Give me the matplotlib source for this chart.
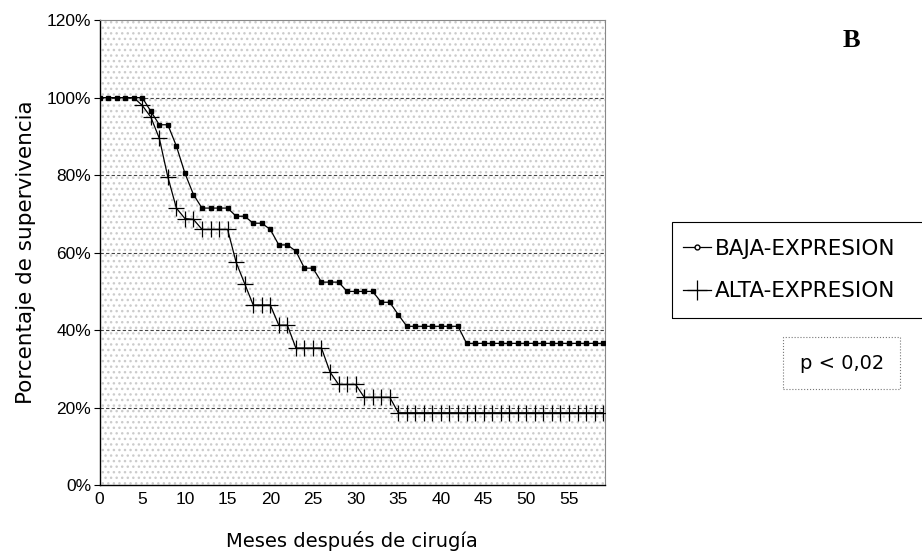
import matplotlib
matplotlib.use("Agg")
import matplotlib.pyplot as plt
from matplotlib.patches import Rectangle
from matplotlib.lines import Line2D

# Survival curves, one value per month (0..59).
months = list(range(60))
baja = [100, 100, 100, 100, 100, 100, 96.5, 93, 93, 87.5,
        80.5, 75, 71.5, 71.5, 71.5, 71.5, 69.4, 69.4, 67.6, 67.6,
        66, 62, 62, 60.4, 56, 56, 52.4, 52.4, 52.4, 50,
        50, 50, 50, 47.2, 47.2, 44, 41, 41, 41, 41,
        41, 41, 41, 36.6, 36.6, 36.6, 36.6, 36.6, 36.6, 36.6,
        36.6, 36.6, 36.6, 36.6, 36.6, 36.6, 36.6, 36.6, 36.6, 36.6]
alta = [100, 100, 100, 100, 100, 98, 95, 89.5, 79.5, 71.5,
        68.8, 68.6, 66, 66, 66, 66, 57.5, 52, 46.5, 46.5,
        46.5, 41.3, 41.3, 35.4, 35.4, 35.4, 35.4, 29.2, 26, 26,
        26, 22.7, 22.7, 22.7, 22.7, 18.7, 18.7, 18.7, 18.7, 18.7,
        18.7, 18.7, 18.7, 18.7, 18.7, 18.7, 18.7, 18.7, 18.7, 18.7,
        18.7, 18.7, 18.7, 18.7, 18.7, 18.7, 18.7, 18.7, 18.7, 18.7]

series_names = ["BAJA-EXPRESION", "ALTA-EXPRESION"]
x_ticks = list(range(0, 60, 5))
y_ticks = [0, 20, 40, 60, 80, 100, 120]

plt.rcParams["font.family"] = ["Liberation Sans", "DejaVu Sans"]
wide = ["DejaVu Sans"]  # wider face, closer to the spaced-out print

fig = plt.figure(figsize=(9.22, 5.59), dpi=100)
ax = fig.add_axes([0.108, 0.132, 0.548, 0.832])

# Light stipple, imitating the scanned grey background.
ax.add_patch(Rectangle((0, 0), 1, 1, transform=ax.transAxes, facecolor="none",
                       hatch="...", edgecolor="#cccccc", lw=0, zorder=0))

# Dashed horizontal gridlines
for yv in y_ticks[1:-1]:
    ax.axhline(yv, color="#444444", lw=0.8, ls=(0, (3, 2)), zorder=1)

ax.plot(months, baja, color="black", lw=0.9, marker="s", ms=3.2,
        mfc="black", mec="black", zorder=3)
# the crosses of the first months are hidden under the other curve in the scan
ax.plot(months, alta, color="black", lw=0.9, marker="+", ms=11,
        mew=0.9, markevery=range(5, len(months)), zorder=3)

ax.set_xlim(0, 59.2)
ax.set_ylim(0, 120)
ax.set_xticks(x_ticks)
ax.set_xticklabels([str(v) for v in x_ticks], fontsize=12.5)
ax.set_yticks(y_ticks)
ax.set_yticklabels([f"{v}%" for v in y_ticks], fontsize=12.5)
ax.tick_params(axis="x", length=0, pad=5)
ax.tick_params(axis="y", length=4, width=0.8, pad=2)

for side in ["left", "bottom"]:
    ax.spines[side].set_color("black")
    ax.spines[side].set_linewidth(1.0)
for side in ["top", "right"]:
    ax.spines[side].set_color("#888888")
    ax.spines[side].set_linewidth(0.8)

ax.set_xlabel("Meses después de cirugía", fontsize=14, family=wide,
              labelpad=17)
ax.set_ylabel("Porcentaje de supervivencia", fontsize=15.5, family=wide,
              labelpad=8)

# Legend, its frame cut by the right edge as in the scan
handles = [
    Line2D([], [], color="black", lw=0.9, marker="o", ms=3.5, mfc="white"),
    Line2D([], [], color="black", lw=0.9, marker="+", ms=15, mew=0.9),
]
leg = fig.legend(handles, series_names, loc="center left",
                 bbox_to_anchor=(0.741, 0.517), frameon=False,
                 prop={"family": wide, "size": 15.5},
                 handlelength=1.3, handletextpad=0.15, borderpad=0,
                 labelspacing=1.05, borderaxespad=0)
fig.add_artist(Rectangle((0.729, 0.431), 0.3, 0.172, transform=fig.transFigure,
                         facecolor="none", edgecolor="black", lw=0.8))

fig.text(0.913, 0.350, "p < 0,02", fontsize=14, family=wide,
         ha="center", va="center",
         bbox=dict(boxstyle="square,pad=0.85", facecolor="white",
                   edgecolor="#777777", ls=":", lw=0.8))

fig.text(0.923, 0.928, "B", fontsize=19, fontweight="bold",
         family=["Liberation Serif", "DejaVu Serif"], ha="center", va="center")

fig.savefig("out.png", dpi=100)
